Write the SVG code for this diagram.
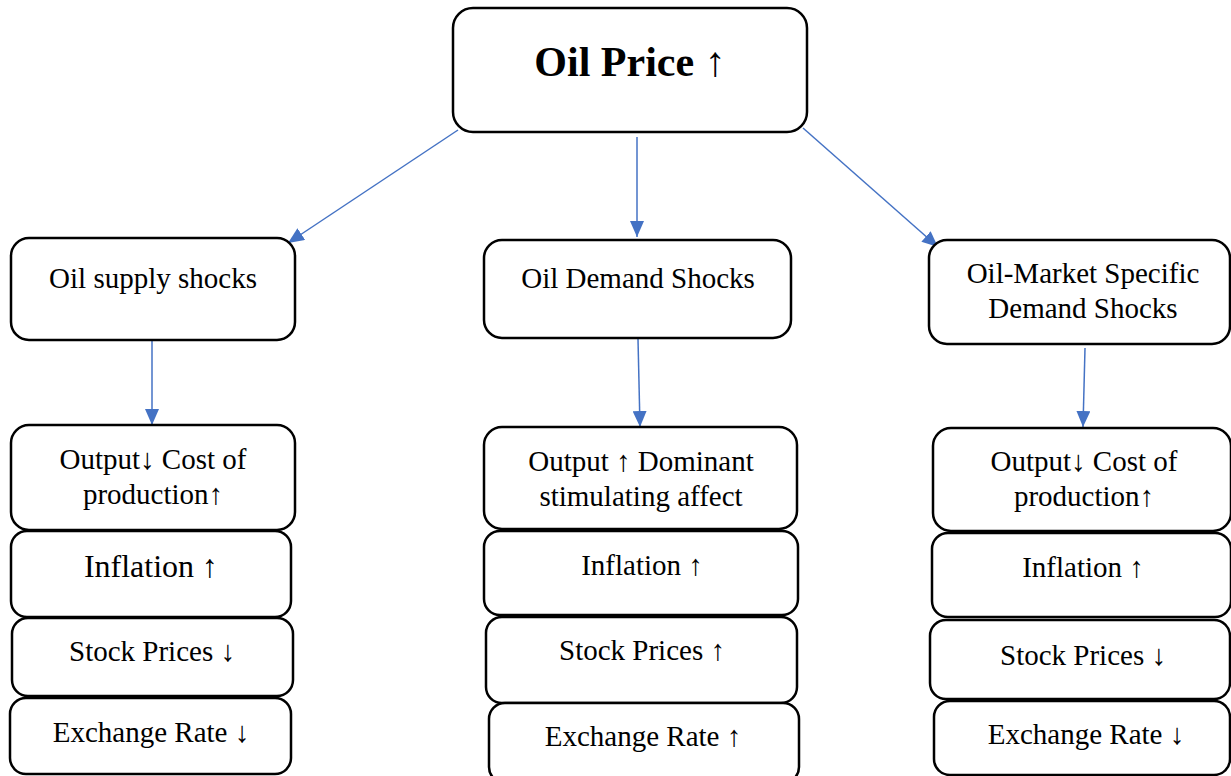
<svg xmlns="http://www.w3.org/2000/svg" width="1231" height="776" viewBox="0 0 1231 776">
<style>
.box{fill:#fff;stroke:#000;stroke-width:2.5}
.t{font-family:"Liberation Serif","Times New Roman",serif;font-size:29px;fill:#000;text-anchor:middle}
.big{font-size:32px}
.title{font-size:42px;font-weight:bold}
.conn{stroke:#4472C4;stroke-width:1.5;fill:none;marker-end:url(#ah)}
</style>
<defs>
<marker id="ah" markerUnits="userSpaceOnUse" markerWidth="16" markerHeight="14" viewBox="0 0 16 14" refX="16" refY="7" orient="auto">
<path d="M0,0 L16,7 L0,14 Z" fill="#4472C4"/>
</marker>
</defs>
<g id="connectors">
<line class="conn" x1="458" y1="130" x2="288" y2="243"/>
<line class="conn" x1="637" y1="137" x2="637" y2="237"/>
<line class="conn" x1="803" y1="128" x2="938" y2="247"/>
<line class="conn" x1="152" y1="341" x2="152" y2="425"/>
<line class="conn" x1="638" y1="339" x2="640" y2="427"/>
<line class="conn" x1="1085" y1="348" x2="1083" y2="427"/>
</g>
<g id="oil-price"><rect class="box" x="453" y="8" width="354" height="124" rx="20"/><text class="t title" x="630" y="76">Oil Price ↑</text></g>
<g id="supply"><rect class="box" x="11" y="238" width="284" height="102" rx="18"/><text class="t" x="153" y="288">Oil supply shocks</text></g>
<g id="demand"><rect class="box" x="484" y="240" width="307" height="98" rx="18"/><text class="t" x="638" y="288">Oil Demand Shocks</text></g>
<g id="specific"><rect class="box" x="929" y="240" width="301" height="104" rx="18"/><text class="t" x="1083" y="283">Oil-Market Specific</text><text class="t" x="1083" y="318">Demand Shocks</text></g>
<g id="l-output"><rect class="box" x="11" y="425" width="284" height="105" rx="18"/><text class="t" x="153" y="469">Output↓ Cost of</text><text class="t" x="153" y="504">production↑</text></g>
<g id="l-inflation"><rect class="box" x="11" y="531" width="280" height="86" rx="16"/><text class="t big" x="151" y="577">Inflation ↑</text></g>
<g id="l-stock"><rect class="box" x="12" y="618" width="281" height="78" rx="16"/><text class="t" x="152" y="661">Stock Prices ↓</text></g>
<g id="l-exchange"><rect class="box" x="10" y="698" width="281" height="76" rx="16"/><text class="t" x="151" y="742">Exchange Rate ↓</text></g>
<g id="m-output"><rect class="box" x="484" y="427" width="313" height="102" rx="18"/><text class="t" x="641" y="471">Output ↑ Dominant</text><text class="t" x="641" y="506">stimulating affect</text></g>
<g id="m-inflation"><rect class="box" x="484" y="531" width="314" height="84" rx="16"/><text class="t" x="642" y="575">Inflation ↑</text></g>
<g id="m-stock"><rect class="box" x="486" y="617" width="311" height="86" rx="16"/><text class="t" x="642" y="660">Stock Prices ↑</text></g>
<g id="m-exchange"><rect class="box" x="489" y="703" width="310" height="80" rx="16"/><text class="t" x="643" y="746">Exchange Rate ↑</text></g>
<g id="r-output"><rect class="box" x="933" y="428" width="298" height="103" rx="18"/><text class="t" x="1084" y="471">Output↓ Cost of</text><text class="t" x="1084" y="506">production↑</text></g>
<g id="r-inflation"><rect class="box" x="932" y="533" width="299" height="84" rx="16"/><text class="t" x="1083" y="577">Inflation ↑</text></g>
<g id="r-stock"><rect class="box" x="930" y="620" width="300" height="79" rx="16"/><text class="t" x="1083" y="665">Stock Prices ↓</text></g>
<g id="r-exchange"><rect class="box" x="934" y="701" width="296" height="74" rx="16"/><text class="t" x="1086" y="744">Exchange Rate ↓</text></g>
</svg>
